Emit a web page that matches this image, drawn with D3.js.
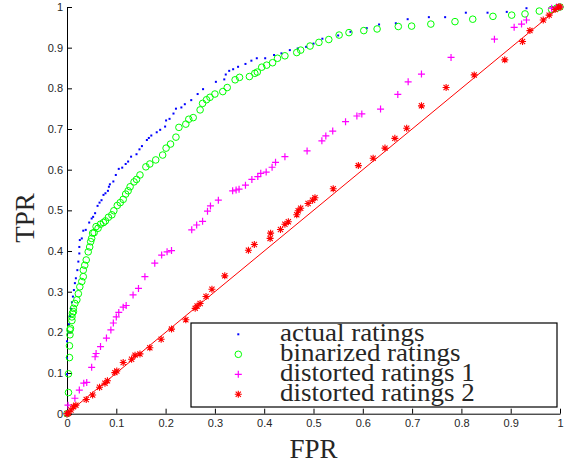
<!DOCTYPE html>
<html><head><meta charset="utf-8">
<script src="https://cdn.jsdelivr.net/npm/d3@7"></script>
<style>
html,body{margin:0;padding:0;background:#fff;}
svg{display:block;}
</style>
</head><body>
<svg id="chart" width="565" height="462"></svg>
<script>
// ---- data: [FPR, TPR] pairs per series ----
const seriesNames = ["actual ratings", "binarized ratings", "distorted ratings 1", "distorted ratings 2"];
const tickValues = [0, 0.1, 0.2, 0.3, 0.4, 0.5, 0.6, 0.7, 0.8, 0.9, 1];
const xLabel = "FPR";
const yLabel = "TPR";

const actualRatings = [[0,0],[0,0.097],[0,0.137],[0,0.178],[0.002,0.2],[0.004,0.22],[0.006,0.24],[0.008,0.258],[0.010,0.274],[0.012,0.288],[0.014,0.304],[0.016,0.321],[0.018,0.333],[0.021,0.353],[0.023,0.374],[0.025,0.394],[0.025,0.41],[0.026,0.427],[0.030,0.431],[0.033,0.45],[0.038,0.452],[0.045,0.47],[0.050,0.48],[0.053,0.484],[0.057,0.493],[0.062,0.511],[0.066,0.519],[0.070,0.525],[0.074,0.538],[0.078,0.542],[0.083,0.548],[0.085,0.558],[0.087,0.564],[0.094,0.571],[0.099,0.587],[0.105,0.602],[0.112,0.605],[0.119,0.614],[0.124,0.62],[0.130,0.632],[0.141,0.638],[0.147,0.65],[0.152,0.658],[0.162,0.673],[0.166,0.678],[0.171,0.684],[0.182,0.692],[0.189,0.698],[0.199,0.706],[0.201,0.721],[0.208,0.725],[0.216,0.738],[0.221,0.75],[0.232,0.753],[0.239,0.761],[0.252,0.771],[0.265,0.786],[0.276,0.798],[0.302,0.816],[0.319,0.822],[0.322,0.834],[0.329,0.843],[0.337,0.847],[0.347,0.853],[0.362,0.86],[0.374,0.868],[0.385,0.874],[0.402,0.874],[0.420,0.882],[0.435,0.886],[0.452,0.894],[0.468,0.898],[0.485,0.902],[0.500,0.91],[0.518,0.922],[0.550,0.93],[0.575,0.939],[0.608,0.948],[0.633,0.957],[0.667,0.96],[0.691,0.97],[0.734,0.975],[0.767,0.975],[0.809,0.986],[0.853,0.986],[0.892,0.988],[0.932,0.997],[0.983,0.999],[1,1]];

const binarizedRatings = [[0,0],[0.003,0.052],[0.003,0.098],[0.005,0.138],[0.005,0.167],[0.006,0.194],[0.006,0.206],[0.007,0.21],[0.01,0.229],[0.01,0.238],[0.011,0.247],[0.013,0.251],[0.013,0.259],[0.016,0.271],[0.020,0.28],[0.023,0.295],[0.026,0.312],[0.030,0.325],[0.033,0.337],[0.033,0.353],[0.036,0.365],[0.039,0.378],[0.043,0.398],[0.046,0.41],[0.048,0.423],[0.050,0.431],[0.052,0.444],[0.055,0.445],[0.059,0.46],[0.063,0.456],[0.068,0.466],[0.074,0.47],[0.078,0.474],[0.084,0.483],[0.091,0.489],[0.095,0.499],[0.102,0.512],[0.108,0.519],[0.114,0.527],[0.119,0.54],[0.124,0.548],[0.128,0.558],[0.136,0.57],[0.141,0.576],[0.148,0.587],[0.160,0.607],[0.168,0.614],[0.180,0.624],[0.194,0.636],[0.201,0.653],[0.210,0.663],[0.221,0.68],[0.227,0.704],[0.241,0.712],[0.247,0.724],[0.256,0.728],[0.270,0.747],[0.275,0.763],[0.283,0.772],[0.290,0.778],[0.300,0.786],[0.316,0.792],[0.325,0.802],[0.341,0.821],[0.350,0.827],[0.370,0.829],[0.381,0.837],[0.386,0.84],[0.395,0.852],[0.405,0.857],[0.417,0.863],[0.427,0.874],[0.442,0.88],[0.466,0.888],[0.474,0.894],[0.493,0.904],[0.511,0.913],[0.531,0.92],[0.552,0.931],[0.572,0.937],[0.602,0.942],[0.629,0.946],[0.672,0.952],[0.699,0.953],[0.738,0.958],[0.787,0.964],[0.823,0.97],[0.864,0.977],[0.902,0.98],[0.929,0.983],[0.958,0.99],[0.983,0.994],[0.993,0.997],[1,1]];

const distortedRatings1 = [[0,0],[0.002,0.021],[0.016,0.038],[0.025,0.058],[0.034,0.075],[0.040,0.077],[0.050,0.114],[0.057,0.14],[0.059,0.148],[0.068,0.165],[0.080,0.186],[0.089,0.206],[0.094,0.223],[0.100,0.238],[0.105,0.249],[0.114,0.262],[0.120,0.266],[0.134,0.292],[0.145,0.308],[0.158,0.337],[0.178,0.37],[0.192,0.39],[0.203,0.398],[0.212,0.401],[0.253,0.452],[0.263,0.464],[0.275,0.473],[0.285,0.498],[0.291,0.511],[0.307,0.525],[0.336,0.548],[0.343,0.55],[0.349,0.552],[0.362,0.562],[0.375,0.576],[0.387,0.583],[0.393,0.591],[0.404,0.594],[0.416,0.606],[0.423,0.618],[0.442,0.632],[0.487,0.646],[0.517,0.671],[0.525,0.683],[0.539,0.695],[0.565,0.718],[0.588,0.732],[0.598,0.737],[0.636,0.749],[0.671,0.785],[0.692,0.816],[0.719,0.835],[0.779,0.876],[0.867,0.921],[0.907,0.95],[0.922,0.958],[0.932,0.968],[0.983,0.997],[0.993,1],[1,1]];

const distortedRatings2 = [[0,0],[0.003,0.001],[0.008,0.009],[0.013,0.017],[0.018,0.021],[0.039,0.035],[0.052,0.046],[0.066,0.065],[0.077,0.075],[0.082,0.081],[0.097,0.101],[0.101,0.105],[0.114,0.126],[0.131,0.134],[0.138,0.144],[0.148,0.147],[0.168,0.162],[0.191,0.183],[0.212,0.208],[0.241,0.231],[0.260,0.259],[0.264,0.265],[0.270,0.271],[0.282,0.288],[0.294,0.306],[0.320,0.339],[0.368,0.402],[0.380,0.416],[0.412,0.431],[0.413,0.444],[0.433,0.453],[0.442,0.466],[0.449,0.472],[0.466,0.489],[0.469,0.499],[0.474,0.505],[0.489,0.517],[0.498,0.525],[0.503,0.531],[0.540,0.553],[0.591,0.61],[0.621,0.628],[0.645,0.653],[0.665,0.677],[0.689,0.702],[0.719,0.757],[0.769,0.802],[0.826,0.833],[0.888,0.87],[0.924,0.915],[0.939,0.942],[0.966,0.968],[0.978,0.98],[0.990,0.994],[0.997,1],[1,1]];

const chanceLine = [[0,0],[1,1]];

// ---- drawing ----
const svg = d3.select("#chart");
const x = d3.scaleLinear().domain([0, 1]).range([67, 560]);
const y = d3.scaleLinear().domain([0, 1]).range([413.7, 7]);

const fmt = d3.format("~g");
const tickFont = "'Liberation Sans', Arial, Helvetica, sans-serif";

const gx = svg.append("g").attr("transform", `translate(0,${y(0)})`)
  .call(d3.axisBottom(x).tickValues(tickValues).tickFormat(fmt).tickSizeInner(-5).tickSizeOuter(0).tickPadding(6));
const gy = svg.append("g").attr("transform", `translate(${x(0)},0)`)
  .call(d3.axisLeft(y).tickValues(tickValues).tickFormat(fmt).tickSizeInner(-5).tickSizeOuter(0).tickPadding(4));
[gx, gy].forEach(g => {
  g.select(".domain").attr("stroke", "#000").attr("stroke-width", 1);
  g.selectAll(".tick line").attr("stroke", "#000");
  g.selectAll(".tick text").attr("font-family", tickFont).attr("font-size", 11).attr("fill", "#262626");
});

// axis labels
const serif = "'Liberation Serif', 'Times New Roman', Times, serif";
svg.append("text").attr("x", (x(0) + x(1)) / 2 - 0).attr("y", 458)
  .attr("text-anchor", "middle").attr("font-family", serif).attr("font-size", 27).attr("fill", "#262626").text(xLabel);
svg.append("text").attr("transform", `translate(34,${218}) rotate(-90)`)
  .attr("text-anchor", "middle").attr("font-family", serif).attr("font-size", 27).attr("fill", "#262626").text(yLabel);

// marker painters
function dot(g, px, py) {
  g.append("rect").attr("x", px - 1).attr("y", py - 1).attr("width", 2).attr("height", 2).attr("fill", "#0000ff");
}
function circ(g, px, py) {
  g.append("circle").attr("cx", px).attr("cy", py).attr("r", 3.3).attr("fill", "none").attr("stroke", "#00ff00").attr("stroke-width", 1);
}
function plus(g, px, py) {
  const s = 3.5;
  g.append("path").attr("d", `M${px - s},${py}H${px + s}M${px},${py - s}V${py + s}`)
    .attr("stroke", "#ff00ff").attr("stroke-width", 1.2).attr("fill", "none");
}
function star(g, px, py) {
  const s = 3.5, d = 2.6;
  g.append("path").attr("d", `M${px - s},${py}H${px + s}M${px},${py - s}V${py + s}M${px - d},${py - d}L${px + d},${py + d}M${px - d},${py + d}L${px + d},${py - d}`)
    .attr("stroke", "#ff0000").attr("stroke-width", 1.1).attr("fill", "none");
}
const painters = [dot, circ, plus, star];
const allSeries = [actualRatings, binarizedRatings, distortedRatings1, distortedRatings2];

allSeries.forEach((data, i) => {
  const g = svg.append("g");
  data.forEach(d => painters[i](g, x(d[0]), y(d[1])));
});

// diagonal line
svg.append("path").datum(chanceLine)
  .attr("d", d3.line().x(d => x(d[0])).y(d => y(d[1])))
  .attr("stroke", "#ff0000").attr("stroke-width", 1).attr("fill", "none");

// legend
const lg = svg.append("g");
lg.append("rect").attr("x", 191).attr("y", 323).attr("width", 366).attr("height", 84)
  .attr("fill", "#fff").attr("stroke", "#000").attr("stroke-width", 1.2);
seriesNames.forEach((name, i) => {
  const cy = 334.3 + i * 20;
  painters[i](lg, 238.3, cy);
  lg.append("text").attr("transform", `translate(280,${cy + 6.6}) scale(1.08,1)`)
    .attr("font-family", serif).attr("font-size", 25).attr("fill", "#262626").text(name);
});
</script>
</body></html>
